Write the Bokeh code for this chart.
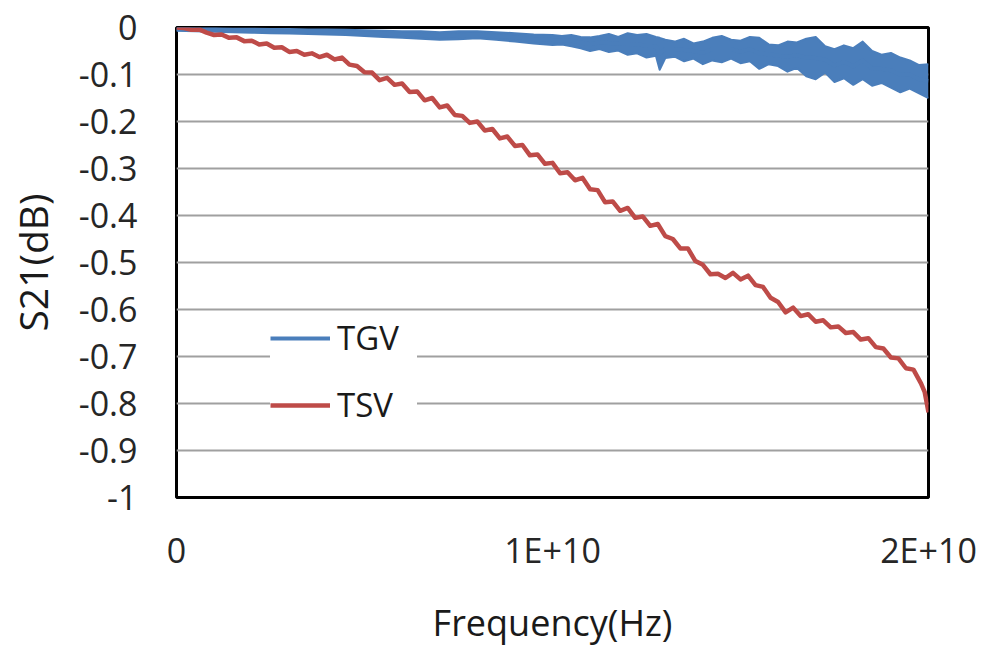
from bokeh.plotting import figure
from bokeh.models import (Range1d, FixedTicker, CustomJSTickFormatter, Legend, LegendItem)
from bokeh.embed import file_html
from bokeh.resources import INLINE

# ---------------- data ----------------
# TSV: frequency in GHz, S21 in dB
tsv_ghz = [0.0, 0.2, 0.4, 0.6, 0.8, 1.0, 1.2, 1.4, 1.6, 1.8,
           2.0, 2.2, 2.4, 2.6, 2.8, 3.0, 3.2, 3.4, 3.6, 3.8,
           4.0, 4.2, 4.4, 4.6, 4.8, 5.0, 5.2, 5.4, 5.6, 5.8,
           6.0, 6.2, 6.4, 6.6, 6.8, 7.0, 7.2, 7.4, 7.6, 7.8,
           8.0, 8.2, 8.4, 8.6, 8.8, 9.0, 9.2, 9.4, 9.6, 9.8,
           10.0, 10.2, 10.4, 10.6, 10.8, 11.0, 11.2, 11.4, 11.6, 11.8,
           12.0, 12.2, 12.4, 12.6, 12.8, 13.0, 13.2, 13.4, 13.6, 13.8,
           14.0, 14.2, 14.4, 14.6, 14.8, 15.0, 15.2, 15.4, 15.6, 15.8,
           16.0, 16.2, 16.4, 16.6, 16.8, 17.0, 17.2, 17.4, 17.6, 17.8,
           18.0, 18.2, 18.4, 18.6, 18.8, 19.0, 19.2, 19.4, 19.6, 19.8,
           19.9, 20.0]
tsv_db = [0.000, -0.001, -0.005, -0.004, -0.011, -0.016, -0.015, -0.022, -0.021, -0.029,
          -0.028, -0.036, -0.034, -0.043, -0.042, -0.052, -0.050, -0.058, -0.055, -0.063,
          -0.058, -0.068, -0.064, -0.079, -0.082, -0.095, -0.096, -0.112, -0.107, -0.122,
          -0.119, -0.137, -0.136, -0.155, -0.150, -0.170, -0.166, -0.186, -0.188, -0.203,
          -0.200, -0.219, -0.216, -0.236, -0.232, -0.252, -0.250, -0.272, -0.270, -0.290,
          -0.288, -0.310, -0.308, -0.325, -0.320, -0.344, -0.346, -0.372, -0.370, -0.390,
          -0.384, -0.405, -0.402, -0.422, -0.418, -0.444, -0.450, -0.470, -0.470, -0.497,
          -0.505, -0.525, -0.524, -0.533, -0.522, -0.536, -0.528, -0.548, -0.552, -0.575,
          -0.584, -0.606, -0.596, -0.614, -0.610, -0.626, -0.623, -0.638, -0.636, -0.650,
          -0.648, -0.664, -0.661, -0.680, -0.683, -0.702, -0.704, -0.725, -0.728, -0.757,
          -0.776, -0.819]

# TGV: noisy trace, given as its upper and lower envelope (dB)
tgv_ghz = [0.0, 0.5, 1.0, 1.5, 2.0, 2.5, 3.0, 3.5, 4.0, 4.5,
           5.0, 5.5, 6.0, 6.5, 7.0, 7.5, 8.0, 8.5, 9.0, 9.5,
           10.0, 10.25, 10.5, 10.75, 11.0, 11.25, 11.5, 11.75, 12.0, 12.25,
           12.5, 12.75, 12.85, 13.0, 13.25, 13.5, 13.75, 14.0, 14.25, 14.5,
           14.75, 15.0, 15.25, 15.5, 15.75, 16.0, 16.25, 16.5, 16.75, 17.0,
           17.25, 17.5, 17.75, 18.0, 18.25, 18.5, 18.75, 19.0, 19.25, 19.5,
           19.75, 20.0]
tgv_upper = [0.000, -0.001, -0.001, -0.002, -0.002, -0.003, -0.003, -0.004, -0.004, -0.005,
             -0.006, -0.007, -0.008, -0.008, -0.010, -0.008, -0.008, -0.010, -0.012, -0.015,
             -0.016, -0.018, -0.016, -0.020, -0.021, -0.018, -0.014, -0.020, -0.012, -0.016,
             -0.014, -0.020, -0.022, -0.026, -0.030, -0.024, -0.034, -0.030, -0.022, -0.018,
             -0.026, -0.028, -0.020, -0.022, -0.036, -0.038, -0.030, -0.032, -0.024, -0.020,
             -0.040, -0.046, -0.038, -0.044, -0.030, -0.050, -0.058, -0.054, -0.064, -0.070,
             -0.080, -0.078]
tgv_lower = [-0.007, -0.008, -0.009, -0.010, -0.011, -0.012, -0.013, -0.014, -0.015, -0.016,
             -0.018, -0.020, -0.022, -0.024, -0.026, -0.025, -0.023, -0.026, -0.030, -0.034,
             -0.037, -0.036, -0.040, -0.044, -0.050, -0.046, -0.052, -0.049, -0.058, -0.055,
             -0.064, -0.060, -0.090, -0.065, -0.062, -0.072, -0.066, -0.078, -0.070, -0.074,
             -0.066, -0.076, -0.072, -0.088, -0.078, -0.082, -0.094, -0.086, -0.104, -0.110,
             -0.096, -0.116, -0.108, -0.122, -0.110, -0.124, -0.118, -0.128, -0.138, -0.130,
             -0.140, -0.150]

y_ticks = [-1.0, -0.9, -0.8, -0.7, -0.6, -0.5, -0.4, -0.3, -0.2, -0.1, 0.0]
x_ticks = [0, 1e10, 2e10]

# ---------------- figure ----------------
FONT = "Open Sans"
TSV_COLOR = "#be4b48"
TGV_COLOR = "#4a7ebb"

p = figure(width=984, height=649, output_backend="svg", toolbar_location=None,
           x_range=Range1d(0, 2e10), y_range=Range1d(-1, 0),
           min_border_left=176, min_border_right=56, min_border_top=27,
           min_border_bottom=152, background_fill_color="white",
           border_fill_color="white")

p.outline_line_color = "black"
p.outline_line_width = 3
p.xgrid.grid_line_color = None
p.ygrid.grid_line_color = "#a0a0a0"
p.ygrid.grid_line_width = 2

for ax in (p.xaxis[0], p.yaxis[0]):
    ax.axis_line_color = None
    ax.major_tick_line_color = None
    ax.minor_tick_line_color = None
    ax.major_tick_out = 0
    ax.major_tick_in = 0
    ax.minor_tick_out = 0
    ax.minor_tick_in = 0
    ax.major_label_text_font = FONT
    ax.major_label_text_color = "#262626"
    ax.axis_label_text_font = FONT
    ax.axis_label_text_font_style = "normal"
    ax.axis_label_text_color = "#1a1a1a"

p.xaxis.ticker = FixedTicker(ticks=x_ticks)
p.yaxis.ticker = FixedTicker(ticks=y_ticks)
p.xaxis.formatter = CustomJSTickFormatter(
    code="return Math.abs(tick) < 1 ? '0' : Math.round(tick/1e10) + 'E+10';")
p.yaxis.formatter = CustomJSTickFormatter(
    code="if (Math.abs(tick) < 1e-9) {return '0';} return (Math.round(tick*10)/10).toString();")

p.xaxis.major_label_text_font_size = "34px"
p.yaxis.major_label_text_font_size = "34px"
p.xaxis.major_label_standoff = 29
p.yaxis.major_label_standoff = 39
p.xaxis.axis_label = "Frequency(Hz)"
p.yaxis.axis_label = "S21(dB)"
p.xaxis.axis_label_text_font_size = "36px"
p.yaxis.axis_label_text_font_size = "39px"
p.xaxis.axis_label_standoff = 22
p.yaxis.axis_label_standoff = 17

tsv_hz = [g * 1e9 for g in tsv_ghz]
tgv_hz = [g * 1e9 for g in tgv_ghz]
tgv_mid = [(a + b) / 2 for a, b in zip(tgv_upper, tgv_lower)]

p.varea(x=tgv_hz, y1=tgv_upper, y2=tgv_lower, fill_color=TGV_COLOR)
p.line(tgv_hz, tgv_upper, line_color=TGV_COLOR, line_width=2, line_join="round")
p.line(tgv_hz, tgv_lower, line_color=TGV_COLOR, line_width=2, line_join="round")
tgv_line = p.line(tgv_hz, tgv_mid, line_color=TGV_COLOR, line_width=4)
tsv_line = p.line(tsv_hz, tsv_db, line_color=TSV_COLOR, line_width=4.5, line_join="round")

def make_legend(label, renderer, loc):
    return Legend(items=[LegendItem(label=label, renderers=[renderer])],
                  location=loc, orientation="vertical",
                  background_fill_color="white", background_fill_alpha=1.0,
                  border_line_color=None, padding=2, margin=0,
                  glyph_width=60, glyph_height=20, label_standoff=7,
                  label_width=80,
                  label_text_font=FONT, label_text_font_size="33px",
                  label_text_color="#1a1a1a")

p.add_layout(make_legend("TGV", tgv_line, (94, 137)))
p.add_layout(make_legend("TSV", tsv_line, (94, 70)))

open("out.html", "w").write(file_html(p, INLINE))
